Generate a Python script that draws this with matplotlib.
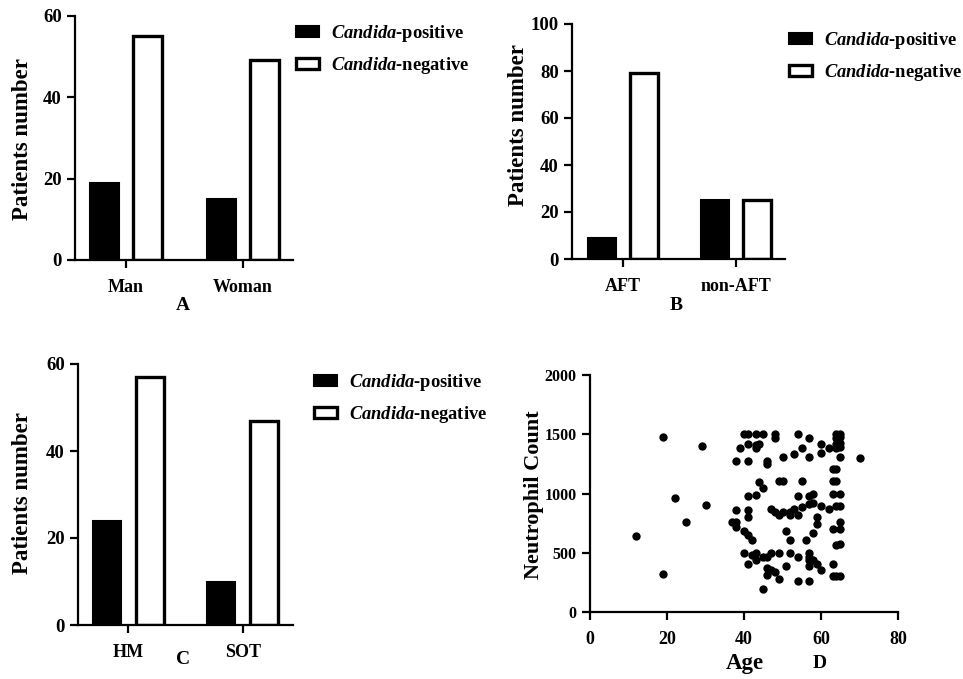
import matplotlib
matplotlib.use("Agg")
import matplotlib.pyplot as plt
from matplotlib.patches import Patch

plt.rcParams['font.family'] = ['Liberation Serif', 'DejaVu Serif']
plt.rcParams['font.weight'] = 'bold'
plt.rcParams['mathtext.fontset'] = 'custom'
plt.rcParams['mathtext.it'] = 'Liberation Serif:italic:bold'
plt.rcParams['mathtext.rm'] = 'Liberation Serif:bold'
plt.rcParams['mathtext.bf'] = 'Liberation Serif:bold'

# ---------------- data ----------------
series_names = [r'$\mathit{Candida}$-positive', r'$\mathit{Candida}$-negative']

cats_a = ['Man', 'Woman']
pos_a = [19, 15]
neg_a = [55, 49]

cats_b = ['AFT', 'non-AFT']
pos_b = [9, 25]
neg_b = [79, 25]

cats_c = ['HM', 'SOT']
pos_c = [24, 10]
neg_c = [57, 47]

ages = [19, 29, 22, 30, 25, 12, 19, 70,
        40, 41, 43, 45, 48, 54, 64, 65,
        48, 57, 64, 65,
        41, 44, 43, 60, 64, 65,
        39, 43, 55, 62, 64, 65,
        60, 53,
        50, 57, 65,
        38, 41, 46,
        46,
        63, 64,
        49, 50, 55, 63, 64,
        44,
        45,
        63, 65,
        41, 43, 54, 57, 58,
        57, 58,
        60, 64, 65,
        47, 53, 55,
        38, 41, 62,
        48, 50, 52,
        49, 52, 54,
        41, 59,
        37, 38, 65,
        59,
        38,
        63, 65,
        40, 51,
        58,
        41,
        42, 52, 56,
        64, 65,
        40, 43, 47, 49, 52, 57,
        42,
        45, 46, 54, 57,
        43, 57, 58,
        41, 59, 63,
        51, 57,
        46,
        47, 60,
        48,
        46,
        63, 64, 65,
        49,
        54, 57,
        45]
counts = [1480, 1400, 960, 900, 760, 640, 320, 1300,
          1500, 1500, 1500, 1500, 1500, 1500, 1500, 1500,
          1465, 1465, 1465, 1480,
          1420, 1420, 1410, 1420, 1420, 1430,
          1380, 1380, 1380, 1380, 1380, 1390,
          1340, 1330,
          1305, 1305, 1305,
          1276, 1276, 1276,
          1248,
          1203, 1203,
          1107, 1107, 1107, 1107, 1107,
          1100,
          1050,
          1000, 1000,
          977, 990, 977, 977, 1000,
          915, 920,
          896, 896, 896,
          873, 873, 890,
          860, 860, 873,
          845, 845, 845,
          822, 822, 822,
          803, 803,
          760, 760, 760,
          746,
          718,
          704, 704,
          684, 684,
          670,
          648,
          605, 605, 605,
          563, 570,
          499, 499, 499, 499, 499, 499,
          480,
          460, 465, 460, 460,
          437, 437, 437,
          408, 408, 408,
          388, 388,
          375,
          352, 352,
          338,
          310,
          300, 300, 300,
          276,
          259, 259,
          197]

# ---------------- layout ----------------
W, H = 963, 679
fig = plt.figure(figsize=(W / 100, H / 100), dpi=100)


def fpos(x, y):
    return x / W, 1 - y / H


def make_ax(l, r, t, b):
    return fig.add_axes([l / W, 1 - b / H, (r - l) / W, (b - t) / H])


def style(ax, size=13.5):
    for s in ['top', 'right']:
        ax.spines[s].set_visible(False)
    for s in ['left', 'bottom']:
        ax.spines[s].set_linewidth(1.6)
    ax.tick_params(width=1.6, length=6, labelsize=size)
    for lab in ax.get_xticklabels() + ax.get_yticklabels():
        lab.set_fontweight('bold')


def set_ylabel_center(ax, text, xy, size):
    ax.set_ylabel(text, fontsize=size, fontweight='bold')
    lab = ax.yaxis.label
    lab.set_verticalalignment('center')
    ax.yaxis.set_label_coords(*fpos(*xy), transform=fig.transFigure)


def bar_panel(ax, cats, pos, neg, ymax, ystep, xlim, ylabel_xy, letter_xy, letter, legend_xy):
    x = list(range(len(cats)))
    w = 0.245
    off = 0.186
    ax.bar([i - off for i in x], pos, width=w, color='black', edgecolor='black', linewidth=1.5)
    ax.bar([i + off for i in x], neg, width=w, color='white', edgecolor='black', linewidth=2.4)
    ax.set_xlim(*xlim)
    ax.set_ylim(0, ymax)
    ax.set_yticks(list(range(0, ymax + 1, ystep)))
    ax.set_xticks(x)
    ax.set_xticklabels(cats)
    style(ax)
    ax.tick_params(axis='x', labelsize=13, pad=8)
    set_ylabel_center(ax, 'Patients number', ylabel_xy, 16.5)
    fig.text(*fpos(*letter_xy), letter, fontsize=14, fontweight='bold', ha='center', va='center')
    handles = [Patch(facecolor='black', edgecolor='black', linewidth=1.5),
               Patch(facecolor='white', edgecolor='black', linewidth=2.4)]
    fig.legend(handles, series_names, loc='upper left', bbox_to_anchor=fpos(*legend_xy),
               frameon=False, prop={'size': 13.3, 'weight': 'bold'},
               handlelength=1.25, handleheight=0.6, handletextpad=0.65, labelspacing=0.6,
               borderaxespad=0, borderpad=0)


# Panel A
axA = make_ax(75, 293, 15.7, 260)
bar_panel(axA, cats_a, pos_a, neg_a, 60, 20, (-0.436, 1.427), (22, 139), (183, 305), 'A', (296, 23))

# Panel B
axB = make_ax(572, 785, 24, 259)
bar_panel(axB, cats_b, pos_b, neg_b, 100, 20, (-0.45, 1.43), (518, 125), (676, 305), 'B', (789, 30))

# Panel C
axC = make_ax(78, 293, 364, 625)
bar_panel(axC, cats_c, pos_c, neg_c, 60, 20, (-0.44, 1.44), (22, 493), (183, 660), 'C', (314, 372))

# Panel D
axD = make_ax(590, 898, 375, 612)
axD.scatter(ages, counts, s=36, color='black', linewidths=0, clip_on=False)
axD.set_xlim(0, 80)
axD.set_ylim(0, 2000)
axD.set_xticks([0, 20, 40, 60, 80])
axD.set_yticks([0, 500, 1000, 1500, 2000])
style(axD, size=11.5)
axD.tick_params(axis='x', pad=8, labelsize=13)
set_ylabel_center(axD, 'Neutrophil Count', (534, 495), 16)
axD.set_xlabel('Age', fontsize=16.5, fontweight='bold')
axD.xaxis.label.set_verticalalignment('center')
axD.xaxis.set_label_coords(*fpos(745, 663), transform=fig.transFigure)
fig.text(*fpos(820, 663), 'D', fontsize=14, fontweight='bold', ha='center', va='center')

fig.savefig('out.png', dpi=100)
